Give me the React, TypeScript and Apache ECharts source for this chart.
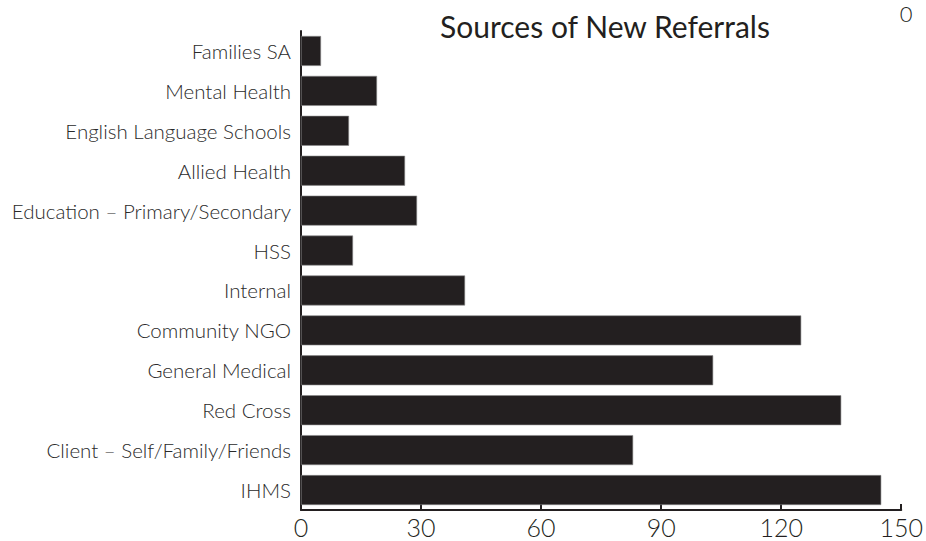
import React, { useEffect, useRef } from "react";
import * as echarts from "echarts";

const categories = [
  "Families SA",
  "Mental Health",
  "English Language Schools",
  "Allied Health",
  "Education – Primary/Secondary",
  "HSS",
  "Internal",
  "Community NGO",
  "General Medical",
  "Red Cross",
  "Client – Self/Family/Friends",
  "IHMS",
];
const referrals = [5, 19, 12, 26, 29, 13, 41, 125, 103, 135, 83, 145];
const xMin = 0;
const xMax = 150;
const xStep = 30;

const INK = "#231f20";
const FONT = "Lato, 'Open Sans', sans-serif";

export default function App() {
  const ref = useRef<HTMLDivElement>(null);
  useEffect(() => {
    if (!ref.current) return;
    const chart = echarts.init(ref.current, undefined, { renderer: "svg" });
    chart.setOption({
      animation: false,
      backgroundColor: "#ffffff",
      title: {
        text: "Sources of New Referrals",
        left: 600,
        top: 6,
        textAlign: "center",
        textStyle: { fontFamily: FONT, fontSize: 30, fontWeight: "normal", color: INK },
      },
      graphic: [
        {
          type: "text",
          x: 906,
          y: 13,
          style: {
            text: "0",
            fontFamily: FONT,
            fontSize: 22,
            fontWeight: 300,
            fill: INK,
            textAlign: "center",
            textVerticalAlign: "middle",
          },
        },
      ],
      grid: { left: 301, right: 21, top: 31, bottom: 31, containLabel: false },
      xAxis: {
        type: "value",
        min: xMin,
        max: xMax,
        interval: xStep,
        axisLine: { show: true, lineStyle: { color: INK, width: 2 } },
        axisTick: { show: true, inside: true, length: 6, lineStyle: { color: INK, width: 2 } },
        splitLine: { show: false },
        axisLabel: { fontFamily: FONT, fontSize: 25, fontWeight: 300, color: INK, margin: 4 },
      },
      yAxis: {
        type: "category",
        data: categories,
        inverse: true,
        axisLine: { show: true, lineStyle: { color: INK, width: 2 } },
        axisTick: { show: false },
        axisLabel: { fontFamily: FONT, fontSize: 20.5, fontWeight: 300, color: "#2a2a2a", margin: 10 },
      },
      series: [
        {
          type: "bar",
          data: referrals,
          barCategoryGap: "25%",
          itemStyle: { color: INK, borderColor: "#8a8a8a", borderWidth: 0.6 },
        },
      ],
    });
    return () => chart.dispose();
  }, []);
  return (
    <div
      ref={ref}
      style={{ position: "fixed", left: 0, top: 0, width: 926, height: 541 }}
    />
  );
}
